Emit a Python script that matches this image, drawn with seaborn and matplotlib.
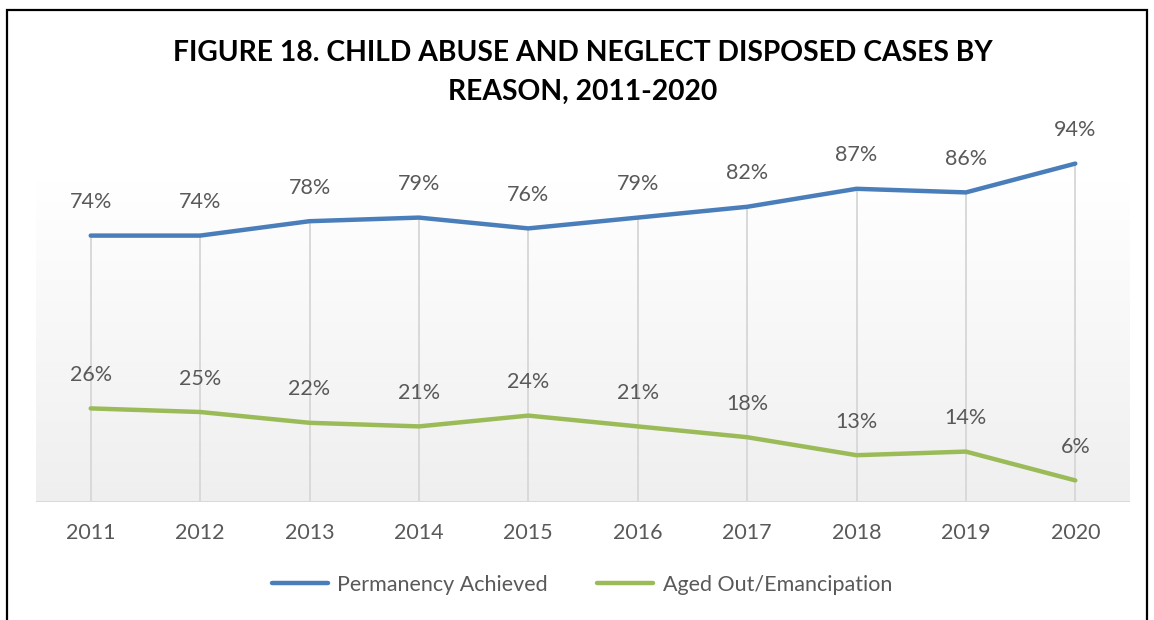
import numpy as np
import pandas as pd
import seaborn as sns
import matplotlib.pyplot as plt
from matplotlib.patches import Rectangle
from matplotlib.lines import Line2D

years = [2011, 2012, 2013, 2014, 2015, 2016, 2017, 2018, 2019, 2020]
permanency = [74, 74, 78, 79, 76, 79, 82, 87, 86, 94]
aged_out = [26, 25, 22, 21, 24, 21, 18, 13, 14, 6]
series_names = ["Permanency Achieved", "Aged Out/Emancipation"]
colors = ["#4A7EBB", "#9BBB59"]
title_lines = ["FIGURE 18. CHILD ABUSE AND NEGLECT DISPOSED CASES BY",
               "REASON, 2011-2020"]

df = pd.DataFrame({
    "year": years * 2,
    "value": permanency + aged_out,
    "series": [series_names[0]] * len(years) + [series_names[1]] * len(years),
})

sns.set_theme(style="white")
plt.rcParams["font.family"] = ["Lato", "DejaVu Sans"]
text_color = "#595959"

fig = plt.figure(figsize=(11.54, 6.20), dpi=100)
ax = fig.add_axes([36 / 1154, 1 - 502 / 620, (1130 - 36) / 1154, 360 / 620])

# plot-area fill: soft vertical gradient, white at top to light grey at the bottom
grad = np.linspace(1.0, 0.0, 256).reshape(-1, 1)
ax.imshow(grad, cmap=plt.matplotlib.colors.LinearSegmentedColormap.from_list(
    "bg", ["#efefef", "#ffffff"]), aspect="auto",
    extent=[0, 1, 0, 0.89], transform=ax.transAxes, zorder=0, vmin=0, vmax=1)

# drop lines from the upper series to the baseline
ax.vlines(years, 0, permanency, color="#d9d9d9", lw=1.4, zorder=1)
ax.axhline(0, color="#d9d9d9", lw=2.2, zorder=1)

sns.lineplot(data=df, x="year", y="value", hue="series", palette=colors,
             linewidth=3.2, ax=ax, legend=False, zorder=3, solid_capstyle="round")

for vals in (permanency, aged_out):
    for x, v in zip(years, vals):
        ax.annotate(f"{v}%", (x, v), xytext=(0, 24), textcoords="offset points",
                    ha="center", va="center", fontsize=15.5, color=text_color,
                    annotation_clip=False)

ax.set_xlim(2010.5, 2020.5)
ax.set_ylim(0, 100)
ax.set_xticks(years)
ax.set_xticklabels([str(y) for y in years], fontsize=15.5, color=text_color)
ax.tick_params(axis="x", length=0, pad=15)
ax.set_yticks([])
ax.set_xlabel("")
ax.set_ylabel("")
for s in ax.spines.values():
    s.set_visible(False)
ax.set_facecolor("none")

fig.text(583 / 1154, 1 - 53 / 620, title_lines[0], ha="center", va="center",
         fontsize=20.3, fontweight="bold", color="black")
fig.text(583 / 1154, 1 - 92 / 620, title_lines[1], ha="center", va="center",
         fontsize=20.3, fontweight="bold", color="black")

handles = [Line2D([0], [0], color=c, lw=3.2, solid_capstyle="round") for c in colors]
fig.legend(handles, series_names, loc="center", bbox_to_anchor=(582 / 1154, 1 - 585 / 620),
           ncol=2, frameon=False, fontsize=15.5, handlelength=2.6, handletextpad=0.45,
           columnspacing=2.3, labelcolor=text_color)

fig.patches.append(Rectangle((7 / 1154, -0.02), (1147 - 7) / 1154, (620 - 10) / 620 + 0.02,
                             transform=fig.transFigure, fill=False, edgecolor="black",
                             lw=1.6, zorder=10))

fig.savefig("out.png", dpi=100)
